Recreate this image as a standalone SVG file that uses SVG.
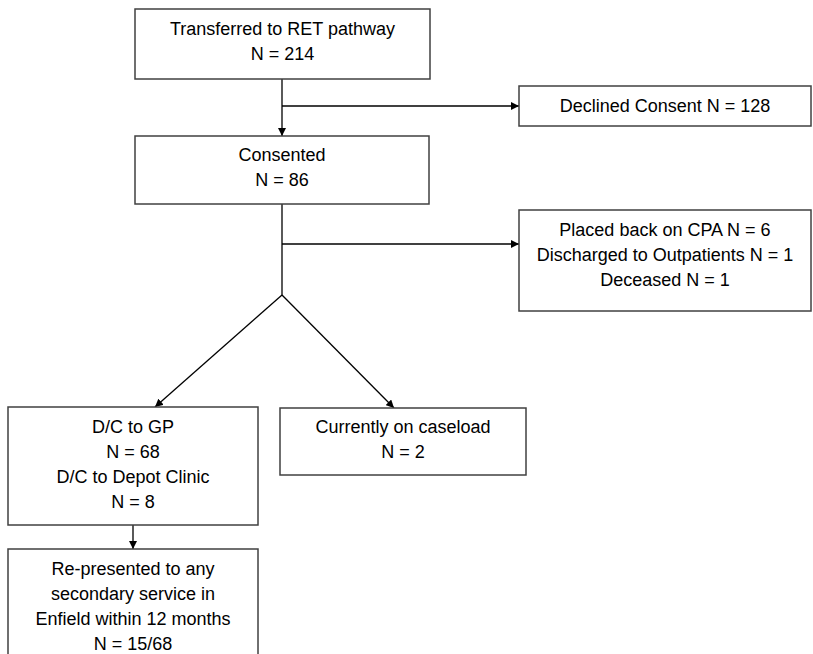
<svg xmlns="http://www.w3.org/2000/svg" width="813" height="654" viewBox="0 0 813 654">
<style>
.box{fill:#fff;stroke:#404040;stroke-width:1.5}
.ln{fill:none;stroke:#000;stroke-width:1.3}
text{font-family:"Liberation Sans",Arial,sans-serif;font-size:18px;fill:#000;text-anchor:middle}
</style>
<defs>
<marker id="ah" viewBox="0 0 10 10" refX="10" refY="5" markerWidth="8" markerHeight="8" markerUnits="userSpaceOnUse" orient="auto">
<path d="M0,0 L10,5 L0,10 z" fill="#000"/>
</marker>
</defs>
<rect width="813" height="654" fill="#fff"/>
<g id="connectors">
<line class="ln" x1="282" y1="79" x2="282" y2="136" marker-end="url(#ah)"/>
<line class="ln" x1="282" y1="106" x2="519" y2="106" marker-end="url(#ah)"/>
<line class="ln" x1="282" y1="204" x2="282" y2="295"/>
<line class="ln" x1="282" y1="244" x2="519" y2="244" marker-end="url(#ah)"/>
<line class="ln" x1="282" y1="295" x2="155" y2="407" marker-end="url(#ah)"/>
<line class="ln" x1="282" y1="295" x2="394" y2="408" marker-end="url(#ah)"/>
<line class="ln" x1="133" y1="525" x2="133" y2="549" marker-end="url(#ah)"/>
</g>
<g id="n1"><rect class="box" x="135" y="9" width="295" height="70"/>
<text x="282.5" y="35">Transferred to RET pathway</text><text x="282.5" y="60">N = 214</text></g>
<g id="n2"><rect class="box" x="135" y="136" width="294" height="68"/>
<text x="282" y="161">Consented</text><text x="282" y="186">N = 86</text></g>
<g id="n3"><rect class="box" x="519" y="86" width="292" height="40"/>
<text x="665" y="112">Declined Consent N = 128</text></g>
<g id="n4"><rect class="box" x="519" y="210" width="292" height="101"/>
<text x="665" y="236">Placed back on CPA N = 6</text><text x="665" y="261">Discharged to Outpatients N = 1</text><text x="665" y="286">Deceased N = 1</text></g>
<g id="n5"><rect class="box" x="8" y="407" width="250" height="118"/>
<text x="133" y="433">D/C to GP</text><text x="133" y="458">N = 68</text><text x="133" y="483">D/C to Depot Clinic</text><text x="133" y="508">N = 8</text></g>
<g id="n6"><rect class="box" x="280" y="408" width="246" height="67"/>
<text x="403" y="433">Currently on caseload</text><text x="403" y="458">N = 2</text></g>
<g id="n7"><rect class="box" x="8" y="549" width="250" height="110"/>
<text x="133" y="575">Re-presented to any</text><text x="133" y="600">secondary service in</text><text x="133" y="625">Enfield within 12 months</text><text x="133" y="650">N = 15/68</text></g>
</svg>
